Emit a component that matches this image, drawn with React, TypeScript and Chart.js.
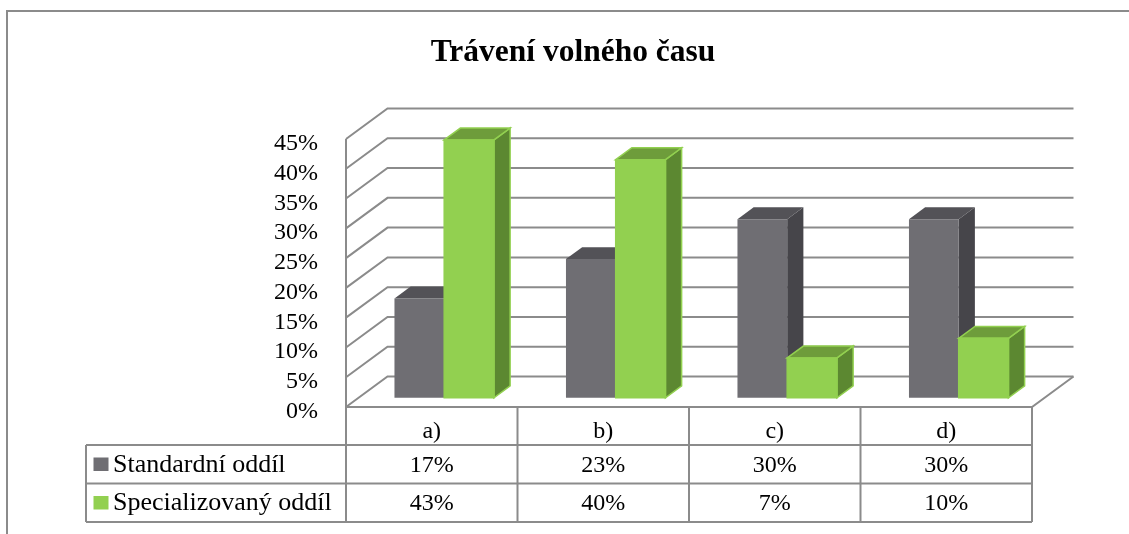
import React, { useEffect, useRef } from "react";
import { Chart, registerables } from "chart.js";

Chart.register(...registerables);

const titleText = "Trávení volného času";
const categories = ["a)", "b)", "c)", "d)"];
const seriesNames = ["Standardní oddíl", "Specializovaný oddíl"];
const standardValues = [16.7, 23.3, 30, 30];
const specialValues = [43.3, 40, 6.7, 10];
const yTickValues = [0, 5, 10, 15, 20, 25, 30, 35, 40, 45];

const FONT = "'Liberation Serif', 'Times New Roman', serif";
const GRID = "#8b8b8b";
const palette = [
  { front: "#6f6e73", top: "#535257", side: "#46454a", edge: "" },
  { front: "#92d050", top: "#6e9c3b", side: "#5c8831", edge: "#92d050" },
];

// depth of the 3D box (back wall offset)
const DX = 41.5;
const DY = -30.5;
// bars sit between 30% and 69% of the depth
const BAR_FRONT = 0.3;
const BAR_DEPTH = 0.39;

const threeDPlugin = {
  id: "threeD",
  afterDraw(chart: any) {
    const ctx: CanvasRenderingContext2D = chart.ctx;
    const { left, right, bottom } = chart.chartArea;
    const ys = chart.scales.y;
    const xs = chart.scales.x;
    const n = categories.length;
    const colW = (right - left) / n;
    const headerBottom = bottom + 38;
    const rowH = 38.5;
    const tableBottom = headerBottom + rowH * seriesNames.length;
    const legendLeft = 86;

    ctx.save();
    ctx.lineCap = "butt";
    ctx.lineJoin = "miter";

    // outer frame
    ctx.strokeStyle = GRID;
    ctx.lineWidth = 2;
    ctx.strokeRect(7, 11, 1400, 1400);

    // title
    ctx.fillStyle = "#000";
    ctx.font = `bold 31.5px ${FONT}`;
    ctx.textAlign = "center";
    ctx.textBaseline = "alphabetic";
    ctx.fillText(titleText, 573, 61);

    // walls: left wall diagonals + back wall lines
    ctx.beginPath();
    for (const v of yTickValues) {
      const y = ys.getPixelForValue(v);
      ctx.moveTo(left, y);
      ctx.lineTo(left + DX, y + DY);
      ctx.lineTo(right + DX, y + DY);
    }
    ctx.stroke();

    // floor
    ctx.beginPath();
    ctx.moveTo(left, bottom);
    ctx.lineTo(right, bottom);
    ctx.lineTo(right + DX, bottom + DY);
    ctx.stroke();

    // left front vertical (axis) down through table
    ctx.beginPath();
    ctx.moveTo(left, ys.getPixelForValue(yTickValues[yTickValues.length - 1]));
    ctx.lineTo(left, tableBottom);
    ctx.stroke();

    // tick labels
    ctx.fillStyle = "#000";
    ctx.font = `24px ${FONT}`;
    ctx.textAlign = "right";
    for (const v of yTickValues) {
      const y = ys.getPixelForValue(v);
      ctx.fillText(`${v}%`, left - 28, y + 11);
    }

    // 3D bars
    const bfx = DX * BAR_FRONT;
    const bfy = DY * BAR_FRONT;
    const bdx = DX * BAR_DEPTH;
    const bdy = DY * BAR_DEPTH;
    chart.data.datasets.forEach((ds: any, di: number) => {
      const meta = chart.getDatasetMeta(di);
      const col = palette[di];
      meta.data.forEach((el: any) => {
        const p = el.getProps(["x", "y", "base", "width"], true);
        const l = p.x - p.width / 2 + bfx;
        const r = p.x + p.width / 2 + bfx;
        const t = p.y + bfy;
        const b = p.base + bfy;
        // side
        ctx.beginPath();
        ctx.moveTo(r, t);
        ctx.lineTo(r + bdx, t + bdy);
        ctx.lineTo(r + bdx, b + bdy);
        ctx.lineTo(r, b);
        ctx.closePath();
        ctx.fillStyle = col.side;
        ctx.fill();
        if (col.edge) {
          ctx.strokeStyle = col.edge;
          ctx.lineWidth = 1.5;
          ctx.stroke();
        }
        // top
        ctx.beginPath();
        ctx.moveTo(l, t);
        ctx.lineTo(l + bdx, t + bdy);
        ctx.lineTo(r + bdx, t + bdy);
        ctx.lineTo(r, t);
        ctx.closePath();
        ctx.fillStyle = col.top;
        ctx.fill();
        if (col.edge) {
          ctx.strokeStyle = col.edge;
          ctx.lineWidth = 1.5;
          ctx.stroke();
        }
        // front
        ctx.beginPath();
        ctx.rect(l, t, r - l, b - t);
        ctx.fillStyle = col.front;
        ctx.fill();
        if (col.edge) {
          ctx.strokeStyle = col.edge;
          ctx.lineWidth = 1.5;
          ctx.stroke();
        }
      });
    });

    // data table
    ctx.strokeStyle = GRID;
    ctx.lineWidth = 2;
    ctx.beginPath();
    for (let i = 0; i <= n; i++) {
      const x = left + i * colW;
      ctx.moveTo(x, bottom);
      ctx.lineTo(x, tableBottom);
    }
    for (let r = 0; r <= seriesNames.length; r++) {
      const y = headerBottom + r * rowH;
      ctx.moveTo(legendLeft, y);
      ctx.lineTo(right, y);
    }
    ctx.moveTo(legendLeft, headerBottom);
    ctx.lineTo(legendLeft, tableBottom);
    ctx.stroke();

    ctx.fillStyle = "#000";
    ctx.font = `24px ${FONT}`;
    ctx.textAlign = "center";
    categories.forEach((c, i) => {
      ctx.fillText(c, xs.getPixelForValue(i), bottom + 31);
    });

    const rows = [standardValues, specialValues];
    rows.forEach((vals, ri) => {
      const rowTop = headerBottom + ri * rowH;
      ctx.fillStyle = palette[ri].front;
      ctx.fillRect(93.5, rowTop + 12.5, 15, 13.5);
      ctx.fillStyle = "#000";
      ctx.textAlign = "left";
      ctx.font = `26px ${FONT}`;
      ctx.fillText(seriesNames[ri], 113, rowTop + 26.5);
      ctx.textAlign = "center";
      ctx.font = `24px ${FONT}`;
      vals.forEach((v, i) => {
        ctx.fillText(`${Math.round(v)}%`, xs.getPixelForValue(i), rowTop + 26.5);
      });
    });

    ctx.restore();
  },
};

export default function App() {
  const ref = useRef<HTMLCanvasElement | null>(null);
  useEffect(() => {
    if (!ref.current) return;
    const chart = new Chart(ref.current, {
      type: "bar",
      data: {
        labels: categories,
        datasets: [
          { label: seriesNames[0], data: standardValues, backgroundColor: "rgba(0,0,0,0)", borderWidth: 0 },
          { label: seriesNames[1], data: specialValues, backgroundColor: "rgba(0,0,0,0)", borderWidth: 0 },
        ],
      },
      options: {
        responsive: false,
        maintainAspectRatio: false,
        animation: false,
        events: [],
        layout: { padding: { left: 346, right: 97, top: 139, bottom: 127 } },
        datasets: { bar: { categoryPercentage: 0.58, barPercentage: 1 } },
        scales: {
          x: { type: "category", display: false, offset: true },
          y: { type: "linear", display: false, min: 0, max: 45 },
        },
        plugins: { legend: { display: false }, tooltip: { enabled: false }, title: { display: false } },
      },
      plugins: [threeDPlugin],
    });
    return () => chart.destroy();
  }, []);
  return (
    <div style={{ position: "absolute", left: 0, top: 0, width: 1129, height: 534, background: "#fff" }}>
      <canvas ref={ref} width={1129} height={534} style={{ display: "block" }} />
    </div>
  );
}
